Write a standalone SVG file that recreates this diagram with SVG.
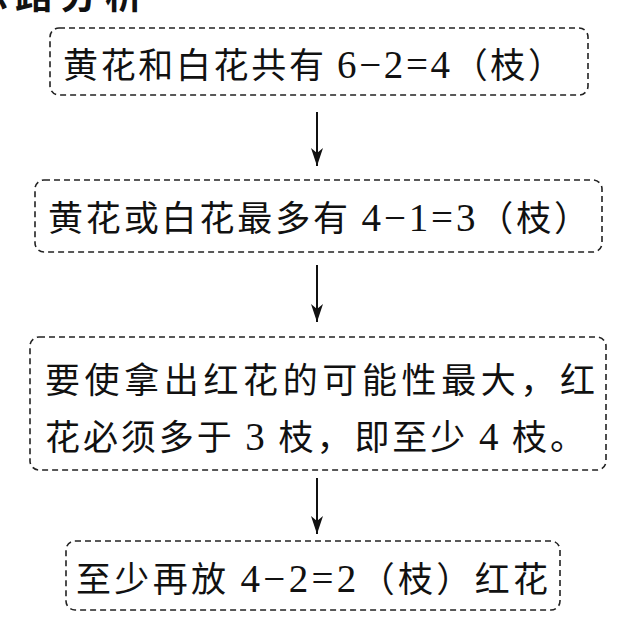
<svg xmlns="http://www.w3.org/2000/svg" width="627" height="624" viewBox="0 0 627 624">
<defs>
<style>
.box{fill:none;stroke:#222;stroke-width:1.6;stroke-dasharray:6 4}
.t{font-family:"Noto Sans CJK SC",sans-serif;font-size:35px;fill:#111}
.n{font-family:"Liberation Serif","Noto Sans CJK SC",serif;font-size:39px}
.h{font-family:"Noto Sans CJK SC",sans-serif;font-size:38px;font-weight:bold;fill:#111}
.conn line{stroke:#111;stroke-width:2}
</style>
<marker id="ah" viewBox="0 -6 18 12" refX="18" refY="0" markerWidth="18" markerHeight="12" markerUnits="userSpaceOnUse" orient="auto">
<path d="M0,-6 L18,0 L0,6 L5,0 z" fill="#111"/>
</marker>
</defs>
<rect width="627" height="624" fill="#fff"/>
<text class="h" x="-30" y="8" letter-spacing="7">思路分析</text>
<g id="node1">
<rect class="box" x="50" y="28" width="538" height="67" rx="9"/>
<text class="t" x="63" y="78" textLength="500" lengthAdjust="spacing">黄花和白花共有 <tspan class="n">6−2=4</tspan>（枝）</text>
</g>
<g id="node2">
<rect class="box" x="35" y="180" width="567" height="72" rx="9"/>
<text class="t" x="48" y="231" textLength="541" lengthAdjust="spacing">黄花或白花最多有 <tspan class="n">4−1=3</tspan>（枝）</text>
</g>
<g id="node3">
<rect class="box" x="30" y="337" width="576" height="133" rx="9"/>
<text class="t" x="45" y="393" textLength="550" lengthAdjust="spacing">要使拿出红花的可能性最大，红</text>
<text class="t" x="45" y="450" textLength="540" lengthAdjust="spacing">花必须多于 <tspan class="n">3</tspan> 枝，即至少 <tspan class="n">4</tspan> 枝。</text>
</g>
<g id="node4">
<rect class="box" x="66" y="541" width="494" height="69" rx="9"/>
<text class="t" x="76" y="592" textLength="472" lengthAdjust="spacing">至少再放 <tspan class="n">4−2=2</tspan>（枝）红花</text>
</g>
<g id="connectors" class="conn">
<line x1="317" y1="112" x2="317" y2="166" marker-end="url(#ah)"/>
<line x1="317" y1="265" x2="317" y2="322" marker-end="url(#ah)"/>
<line x1="317" y1="478" x2="317" y2="534" marker-end="url(#ah)"/>
</g>
</svg>
